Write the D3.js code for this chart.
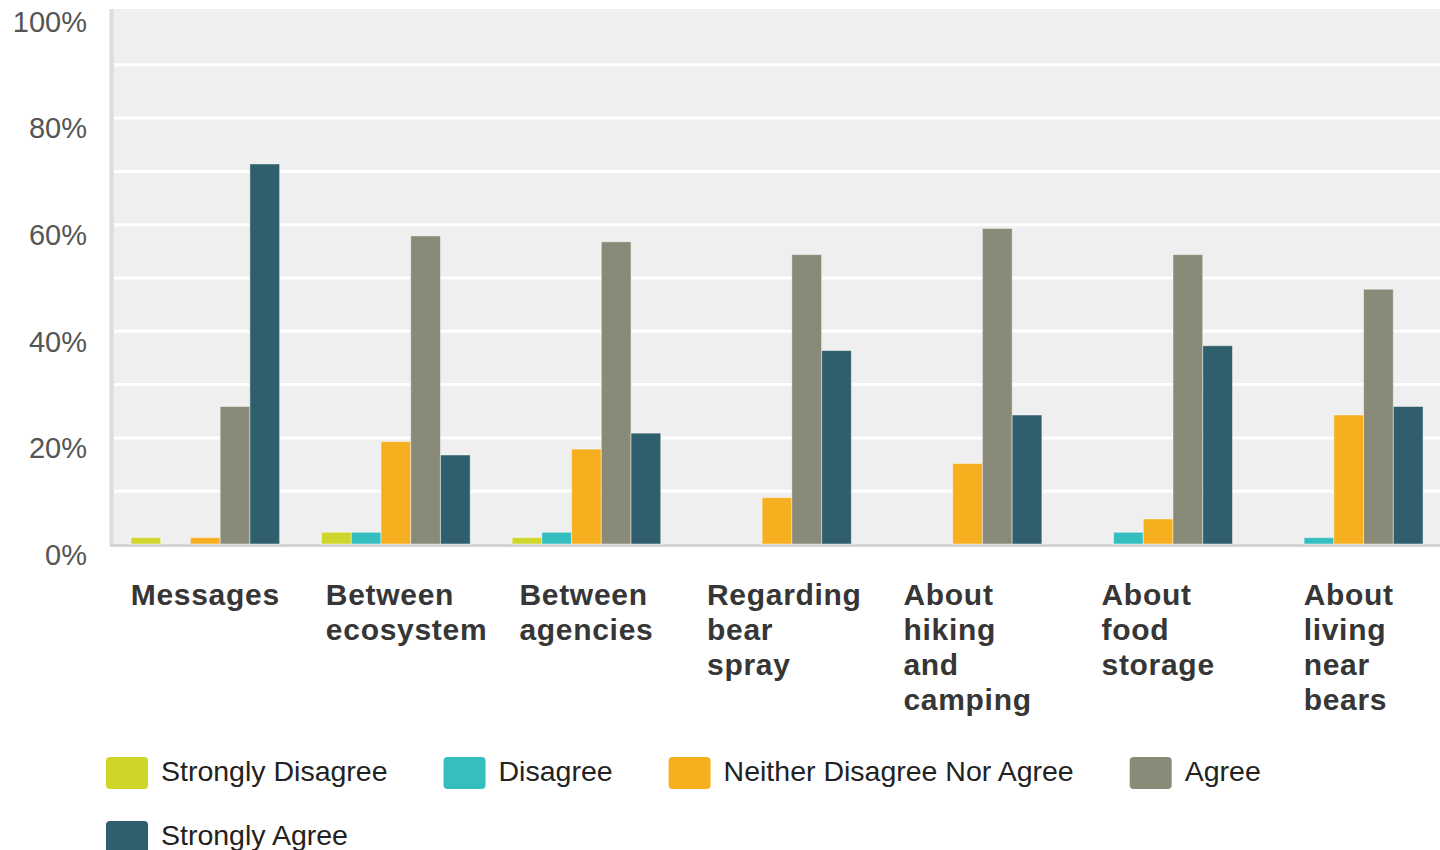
<!DOCTYPE html>
<html>
<head>
<meta charset="utf-8">
<script src="https://cdn.jsdelivr.net/npm/d3@7"></script>
<style>
  html, body { margin: 0; padding: 0; background: #fff; }
  svg { display: block; font-family: "Liberation Sans", Arial, sans-serif; }
</style>
</head>
<body>
<svg id="chart" width="1440" height="850"></svg>
<script>
// categories (full names) and how they wrap under the axis
const categories = ['Messages', 'Between ecosystem', 'Between agencies', 'Regarding bear spray',
  'About hiking and camping', 'About food storage', 'About living near bears'];
const labelLines = [
  ['Messages'], ['Between', 'ecosystem'], ['Between', 'agencies'], ['Regarding', 'bear', 'spray'],
  ['About', 'hiking', 'and', 'camping'], ['About', 'food', 'storage'], ['About', 'living', 'near', 'bears']
];

// series names + values (percent)
const seriesNames = ['Strongly Disagree', 'Disagree', 'Neither Disagree Nor Agree', 'Agree', 'Strongly Agree'];
const stronglyDisagree = [1.2, 2.2, 1.2, 0, 0, 0, 0];
const disagree = [0, 2.2, 2.2, 0, 0, 2.2, 1.2];
const neither = [1.2, 19.2, 17.8, 8.7, 15.1, 4.7, 24.2];
const agree = [25.8, 57.8, 56.7, 54.3, 59.2, 54.3, 47.8];
const stronglyAgree = [71.3, 16.7, 20.8, 36.3, 24.2, 37.2, 25.8];
const yTicks = [0, 20, 40, 60, 80, 100];

const seriesValues = [stronglyDisagree, disagree, neither, agree, stronglyAgree];
const colors = ['#cfd62b', '#35bec0', '#f6af1f', '#898a78', '#2f5f6c'];

(function () {
  const svg = d3.select('#chart');
  const pLeft = 110, pRight = 1440, pTop = 9, pBottom = 544;

  // the band range runs a little past the visible plot edge, as in the source
  const x = d3.scaleBand().domain(categories).range([pLeft, 1444]).paddingInner(0.22).paddingOuter(0.11);
  const xs = d3.scaleBand().domain(seriesNames).range([0, x.bandwidth()]);
  const y = d3.scaleLinear().domain([0, 100]).range([pBottom, 11]);
  const color = d3.scaleOrdinal().domain(seriesNames).range(colors);

  // plot background
  svg.append('rect')
    .attr('x', pLeft).attr('y', pTop)
    .attr('width', pRight - pLeft).attr('height', pBottom - pTop)
    .attr('fill', '#efefef');

  // white gridlines every 10%
  svg.append('g')
    .attr('transform', 'translate(' + (pLeft + 4) + ',0)')
    .call(d3.axisLeft(y).tickValues(d3.range(10, 100, 10)).tickSize(-(pRight - pLeft)).tickFormat(''))
    .call(g => g.select('.domain').remove())
    .call(g => g.selectAll('line').attr('stroke', '#fff').attr('stroke-width', 3));

  // axis lines
  svg.append('line').attr('x1', pLeft + 1.5).attr('x2', pLeft + 1.5).attr('y1', pTop).attr('y2', pBottom + 2)
    .attr('stroke', '#dcdcdc').attr('stroke-width', 4);
  svg.append('line').attr('x1', pLeft).attr('x2', pRight).attr('y1', pBottom + 1.5).attr('y2', pBottom + 1.5)
    .attr('stroke', '#d4d4d4').attr('stroke-width', 3);

  // y axis labels
  svg.append('g')
    .attr('transform', 'translate(' + pLeft + ',0)')
    .call(d3.axisLeft(y).tickValues(yTicks).tickSize(0).tickPadding(23).tickFormat(d => d + '%'))
    .call(g => g.select('.domain').remove())
    .call(g => g.selectAll('text')
      .attr('dy', '0.7em')
      .attr('fill', '#555')
      .style('font-size', '29px')
      .style('font-family', '"Liberation Sans", Arial, sans-serif'));

  // bars
  const rows = categories.map((c, i) => ({ cat: c, vals: seriesNames.map((s, j) => ({ s, v: seriesValues[j][i] })) }));
  svg.append('g').selectAll('g')
    .data(rows)
    .join('g')
    .attr('transform', d => 'translate(' + x(d.cat) + ',0)')
    .selectAll('rect')
    .data(d => d.vals.filter(e => e.v > 0))
    .join('rect')
    .attr('x', e => xs(e.s))
    .attr('y', e => y(e.v))
    .attr('width', xs.bandwidth())
    .attr('height', e => y(0) - y(e.v))
    .attr('fill', e => color(e.s))
    .attr('stroke', 'rgba(255,255,255,0.45)')
    .attr('stroke-width', 1);

  // category labels: single lines centred, wrapped blocks left-aligned
  // with the block width capped (long words overflow to the right)
  const maxW = 140;
  const xl = svg.append('g');
  categories.forEach((c, i) => {
    const t = xl.append('text')
      .attr('fill', '#363636')
      .style('font-size', '30px')
      .style('font-weight', 'bold')
      .style('letter-spacing', '0.7px');
    labelLines[i].forEach((ln, k) => {
      t.append('tspan').attr('x', 0).attr('y', 605 + k * 35).text(ln);
    });
    const w = d3.max(t.selectAll('tspan').nodes(), n => n.getComputedTextLength());
    const bw = labelLines[i].length > 1 ? Math.min(w, maxW) : w;
    t.attr('transform', 'translate(' + (x(c) + x.bandwidth() / 2 - bw / 2) + ',0)');
  });

  // legend, flowing left to right and wrapping
  const legend = svg.append('g');
  let lx = 106, ly = 757;
  seriesNames.forEach(s => {
    const g = legend.append('g');
    const t = g.append('text')
      .attr('x', 55).attr('y', 24)
      .attr('fill', '#222')
      .style('font-size', '28.5px')
      .text(s);
    const w = 55 + t.node().getComputedTextLength();
    if (lx + w > 1400) { lx = 106; ly += 64; }
    g.attr('transform', 'translate(' + lx + ',' + ly + ')');
    g.insert('rect', 'text')
      .attr('width', 42).attr('height', 32).attr('rx', 4)
      .attr('fill', color(s));
    lx += w + 56;
  });
})();
</script>
</body>
</html>
